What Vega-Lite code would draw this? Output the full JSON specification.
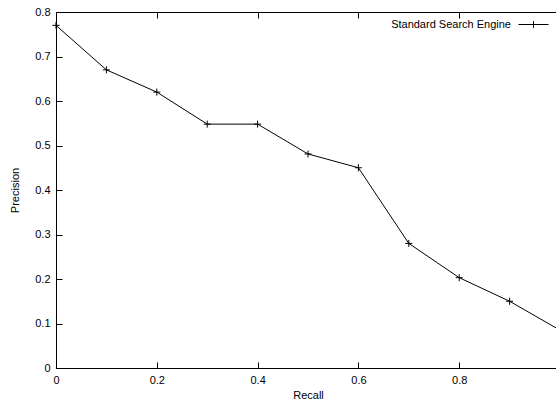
{
  "$schema": "https://vega.github.io/schema/vega-lite/v6.json",
  "width": 504,
  "height": 356,
  "autosize": {"type": "none"},
  "padding": {"left": 56, "top": 12, "right": 0, "bottom": 33},
  "background": "white",
  "config": {
    "font": "Liberation Sans",
    "view": {"stroke": "black", "strokeWidth": 1},
    "axis": {
      "grid": false,
      "domainColor": "black",
      "domainWidth": 1,
      "tickColor": "black",
      "tickWidth": 1,
      "tickSize": -6,
      "labelColor": "black",
      "labelFontSize": 11,
      "labelFont": "Liberation Sans",
      "titleFont": "Liberation Sans",
      "titleFontSize": 11,
      "titleFontWeight": "normal",
      "titleColor": "black"
    }
  },
  "data": {
    "values": [
      {"recall": 0.0, "precision": 0.77},
      {"recall": 0.1, "precision": 0.67},
      {"recall": 0.2, "precision": 0.62},
      {"recall": 0.3, "precision": 0.548},
      {"recall": 0.4, "precision": 0.548},
      {"recall": 0.5, "precision": 0.481},
      {"recall": 0.6, "precision": 0.45},
      {"recall": 0.7, "precision": 0.28},
      {"recall": 0.8, "precision": 0.203},
      {"recall": 0.9, "precision": 0.15},
      {"recall": 1.0, "precision": 0.085}
    ]
  },
  "layer": [
    {
      "mark": {"type": "line", "strokeWidth": 1},
      "encoding": {
        "x": {
          "field": "recall", "type": "quantitative",
          "scale": {"domain": [0, 1], "nice": false},
          "axis": {"title": "Recall", "values": [0, 0.2, 0.4, 0.6, 0.8], "format": "~g", "labelPadding": 12, "titlePadding": 4, "labelFlush": false, "labelOverlap": false}
        },
        "y": {
          "field": "precision", "type": "quantitative",
          "scale": {"domain": [0, 0.8], "nice": false},
          "axis": {"title": "Precision", "values": [0, 0.1, 0.2, 0.3, 0.4, 0.5, 0.6, 0.7, 0.8], "labelPadding": 12, "titlePadding": 14, "format": "~g", "labelOverlap": false}
        },
        "color": {
          "datum": "Standard Search Engine",
          "type": "nominal",
          "scale": {"range": ["black"]},
          "legend": {
            "orient": "none",
            "legendX": 462,
            "legendY": -3,
            "title": null,
            "padding": 0,
            "symbolType": "M-1,0H1M0,-0.23V0.23",
            "symbolSize": 900,
            "symbolStrokeColor": "black",
            "symbolStrokeWidth": 1,
            "symbolFillColor": "transparent",
            "labelAlign": "right",
            "labelOffset": -38,
            "labelFontSize": 11,
            "labelColor": "black",
            "labelFont": "Liberation Sans"
          }
        }
      }
    },
    {
      "mark": {"type": "point", "shape": "M-1,0H1M0,-1V1", "size": 49, "filled": false, "color": "black", "strokeWidth": 1, "opacity": 1},
      "encoding": {
        "x": {
          "field": "recall", "type": "quantitative",
          "axis": {"orient": "top", "values": [0, 0.2, 0.4, 0.6, 0.8], "labels": false, "domain": false, "title": null}
        },
        "y": {"field": "precision", "type": "quantitative"}
      }
    }
  ],
  "resolve": {"axis": {"x": "independent"}}
}
